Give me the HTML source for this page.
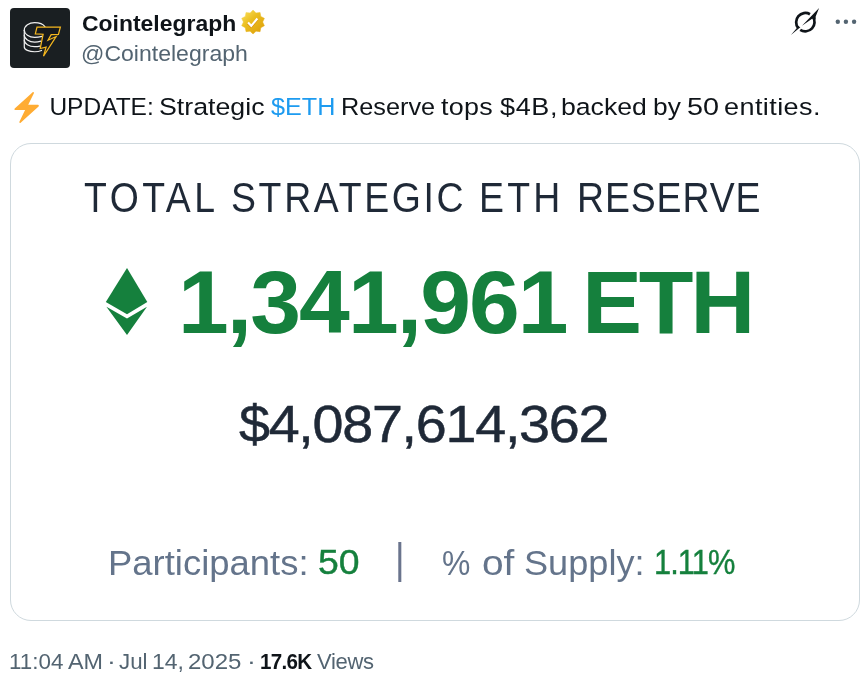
<!DOCTYPE html>
<html lang="en">
<head>
<meta charset="utf-8">
<title>Cointelegraph on X</title>
<style>
*{box-sizing:border-box;margin:0;padding:0}
html,body{width:868px;height:678px;background:#fff;overflow:hidden}
body{font-family:"Liberation Sans",sans-serif;color:#0f1419;position:relative}
span,a,b,i,svg{position:absolute;white-space:nowrap;line-height:1;transform-origin:0 0}
b{font-weight:400}
.ln{position:absolute;left:0;top:0;width:868px;height:0}
.avatar{position:absolute;left:10px;top:8px;width:60px;height:59.5px;border-radius:4px;background:#1a1f22}
.name{font-weight:700;color:#0f1419}
.handle{color:#536471}
.tweet{color:#0f1419}
.tweet a{color:#1d9bf0;text-decoration:none}
.card{position:absolute;left:10px;top:143px;width:850px;height:478px;border:1px solid #cfd9de;border-radius:21px;background:#fff;overflow:hidden}
.title{color:#1f2937}
.big{font-weight:700;color:#15803d}
.usd{color:#1f2937;-webkit-text-stroke:0.5px #1f2937}
.stats{color:#64748b}
.stats b{color:#15803d;-webkit-text-stroke:0.4px #15803d}
.sep{color:#6a748d}
.time{color:#536471}
.time b{color:#0f1419;font-weight:700}
</style>
</head>
<body>
<div class="avatar"></div>
<svg class="av" style="left:20px;top:18px" width="44" height="44" viewBox="0 0 678 678">
<g fill="none" stroke="#f0f0f0" stroke-width="19" stroke-linecap="round">
<path d="M66,190 C66,120 140,72 226,72 C300,72 360,100 384,134"/>
<path d="M66,190 V445 C66,490 140,520 226,520 C270,520 305,512 332,500"/>
<path d="M66,190 C66,245 140,300 226,300 C270,300 310,292 340,284"/>
<path d="M66,265 C66,320 140,370 226,370 C262,370 296,364 322,356"/>
<path d="M66,340 C66,395 140,442 226,442 C258,442 286,438 308,432"/>
</g>
<path d="M262,140 L622,140 L592,252 L480,256 L432,342 L556,286 L362,590 L402,448 L312,470 L356,250 L236,246 Z" fill="#16191c" stroke="#f5b81f" stroke-width="19" stroke-linejoin="miter"/>
</svg>
<svg class="badge" style="left:238px;top:7px" width="30" height="30" viewBox="0 0 678 678">
<defs><linearGradient id="gold" x1="0.15" y1="0.1" x2="0.85" y2="0.9"><stop offset="0" stop-color="#f7d84e"/><stop offset="0.4" stop-color="#eabd1e"/><stop offset="1" stop-color="#e0a30d"/></linearGradient></defs>
<path d="M340,70 L407,133 L499,122 L516,212 L597,257 L558,340 L597,423 L516,468 L499,558 L407,547 L340,610 L273,547 L181,558 L164,468 L83,423 L122,340 L83,257 L164,212 L181,122 L273,133Z" fill="url(#gold)" stroke="url(#gold)" stroke-width="10" stroke-linejoin="round"/>
<path d="M220,366 L300,444 L440,276" fill="none" stroke="#d88a05" stroke-width="50"/>
<path d="M226,352 L300,426 L438,260" fill="none" stroke="#fff" stroke-width="48"/>
</svg>
<svg class="grok" style="left:785px;top:2px" width="40" height="40" viewBox="0 0 678 678">
<g fill="none" stroke="#0f1419" stroke-width="46">
<path d="M222,438 A156,156 0 0 1 423,207"/>
<path d="M468,246 A156,156 0 0 1 258,471"/>
</g>
<path d="M578,100 L288,402 L478,272 L520,298 L520,244 Z" fill="#0f1419"/>
<path d="M100,560 L260,428 L222,406 L198,446 Z" fill="#0f1419"/>
</svg>
<svg class="dots" style="left:830px;top:15px" width="32" height="14" viewBox="0 0 32 14"><g fill="#536471"><circle cx="7.8" cy="6.8" r="2.2"/><circle cx="15.9" cy="6.8" r="2.2"/><circle cx="24.1" cy="6.8" r="2.2"/></g></svg>
<div class="ln name"><span style="left:81.68px;top:12.75px;font-size:22.5px;letter-spacing:0px;transform:scaleX(1.0193)">Cointelegraph</span></div>
<div class="ln handle"><span style="left:81.15px;top:42.8px;font-size:22px;letter-spacing:0px;transform:scaleX(1.0473)">@Cointelegraph</span></div>
<svg class="bolt" style="left:12.3px;top:92px" width="29.3" height="30.9" viewBox="0 0 36 36" preserveAspectRatio="none"><path fill="#FFAC33" d="M32.938 15.651C32.792 15.26 32.418 15 32 15H19.925L26.89 1.458c.219-.426.106-.947-.271-1.243C26.437.071 26.218 0 26 0c-.233 0-.466.082-.653.243L18 6.588 3.347 19.243c-.316.273-.43.714-.284 1.105S3.582 21 4 21h12.075L9.11 34.542c-.219.426-.106.947.271 1.243.182.144.401.215.619.215.233 0 .466-.082.653-.243L18 29.412l14.653-12.655c.317-.273.43-.714.285-1.106z"/></svg>
<p class="ln tweet">
<span style="left:49.41px;top:95px;font-size:24.5px;letter-spacing:0px">UPDATE:</span>
<span style="left:159.09px;top:95px;font-size:24.5px;letter-spacing:0px;transform:scaleX(1.0915)">Strategic</span>
<a class="cash" style="left:271.06px;top:95px;font-size:24.5px;letter-spacing:0px;transform:scaleX(1.0273)">$ETH</a>
<span style="left:340.82px;top:95px;font-size:24.5px;letter-spacing:0px;transform:scaleX(1.0311)">Reserve</span>
<span style="left:440.67px;top:95px;font-size:24.5px;letter-spacing:0.22px;transform:scaleX(1.0988)">tops</span>
<span style="left:499.62px;top:95px;font-size:24.5px;letter-spacing:0.59px;transform:scaleX(1.1012)">$4B,</span>
<span style="left:561.05px;top:95px;font-size:24.5px;letter-spacing:0px;transform:scaleX(1.0859)">backed</span>
<span style="left:652.97px;top:95px;font-size:24.5px;letter-spacing:0px;transform:scaleX(1.0737)">by</span>
<span style="left:686.8px;top:95px;font-size:24.5px;letter-spacing:0px;transform:scaleX(1.1748)">50</span>
<span style="left:724.29px;top:95px;font-size:24.5px;letter-spacing:0.37px;transform:scaleX(1.1037)">entities.</span>
</p>
<div class="card"></div>
<svg class="eth" style="left:100px;top:260px" width="54" height="82" viewBox="100 260 54 82"><g fill="#15803d"><path d="M127,268 L147.3,302 L127,314.2 L105.8,302 Z"/><path d="M106.4,306.8 L127,318.6 L147,306.8 L127,334.9 Z"/></g></svg>
<div class="ln title">
<span style="left:84.21px;top:177.2px;font-size:42px;letter-spacing:3.97px;transform:scaleX(0.8892)">TOTAL</span>
<span style="left:230.89px;top:177.2px;font-size:42px;letter-spacing:3.01px;transform:scaleX(0.8902)">STRATEGIC</span>
<span style="left:479.32px;top:177.2px;font-size:42px;letter-spacing:3.66px;transform:scaleX(0.8907)">ETH</span>
<span style="left:576.72px;top:177.2px;font-size:42px;letter-spacing:1.01px;transform:scaleX(0.8902)">RESERVE</span>
</div>
<div class="ln big">
<span style="left:177.5px;top:258px;font-size:89.5px;letter-spacing:-1.9px;transform:scaleX(1.02)">1,341,961</span>
<span style="left:582.3px;top:258px;font-size:89.5px;letter-spacing:-3.13px">ETH</span>
</div>
<div class="ln usd"><span style="left:238.98px;top:397.75px;font-size:52.5px;letter-spacing:-1.2px;transform:scaleX(1.0603)">$4,087,614,362</span></div>
<div class="ln stats">
<span style="left:107.62px;top:545.5px;font-size:35.5px;letter-spacing:0px;transform:scaleX(1.0268)">Participants:</span>
<b style="left:318.34px;top:545.25px;font-size:35.5px;letter-spacing:0px;transform:scaleX(1.0528)">50</b>
<span class="sep" style="left:394.89px;top:537.1px;font-size:43.25px;letter-spacing:0px;transform:scaleX(0.8557)">|</span>
<span style="left:441.52px;top:545.5px;font-size:35.5px;letter-spacing:0px;transform:scaleX(0.8983)">%</span>
<span style="left:481.53px;top:545.5px;font-size:35.5px;letter-spacing:0px;transform:scaleX(1.0951)">of</span>
<span style="left:523.83px;top:545.5px;font-size:35.5px;letter-spacing:0px;transform:scaleX(1.0178)">Supply:</span>
<b style="left:654.21px;top:545.25px;font-size:35.5px;letter-spacing:-1.06px;transform:scaleX(0.8683)">1.11%</b>
</div>
<div class="ln time">
<span style="left:8.69px;top:650.6px;font-size:22px;letter-spacing:0px;transform:scaleX(1.0186)">11:04</span>
<span style="left:68.41px;top:650.6px;font-size:22px;letter-spacing:0px;transform:scaleX(1.0616)">AM</span>
<span style="left:106.64px;top:650.6px;font-size:22px;letter-spacing:0px;transform:scaleX(1.2097)">·</span>
<span style="left:119.28px;top:650.6px;font-size:22px;letter-spacing:0px;transform:scaleX(1.0139)">Jul</span>
<span style="left:152.15px;top:650.6px;font-size:22px;letter-spacing:0px;transform:scaleX(1.0426)">14,</span>
<span style="left:187.77px;top:650.6px;font-size:22px;letter-spacing:0px;transform:scaleX(1.0927)">2025</span>
<span style="left:246.54px;top:650.6px;font-size:22px;letter-spacing:0px;transform:scaleX(1.2097)">·</span>
<b style="left:259.69px;top:650.6px;font-size:22px;letter-spacing:-0.77px;transform:scaleX(0.9345)">17.6K</b>
<span style="left:317.08px;top:650.6px;font-size:22px;letter-spacing:-0.32px">Views</span>
</div>
</body>
</html>
